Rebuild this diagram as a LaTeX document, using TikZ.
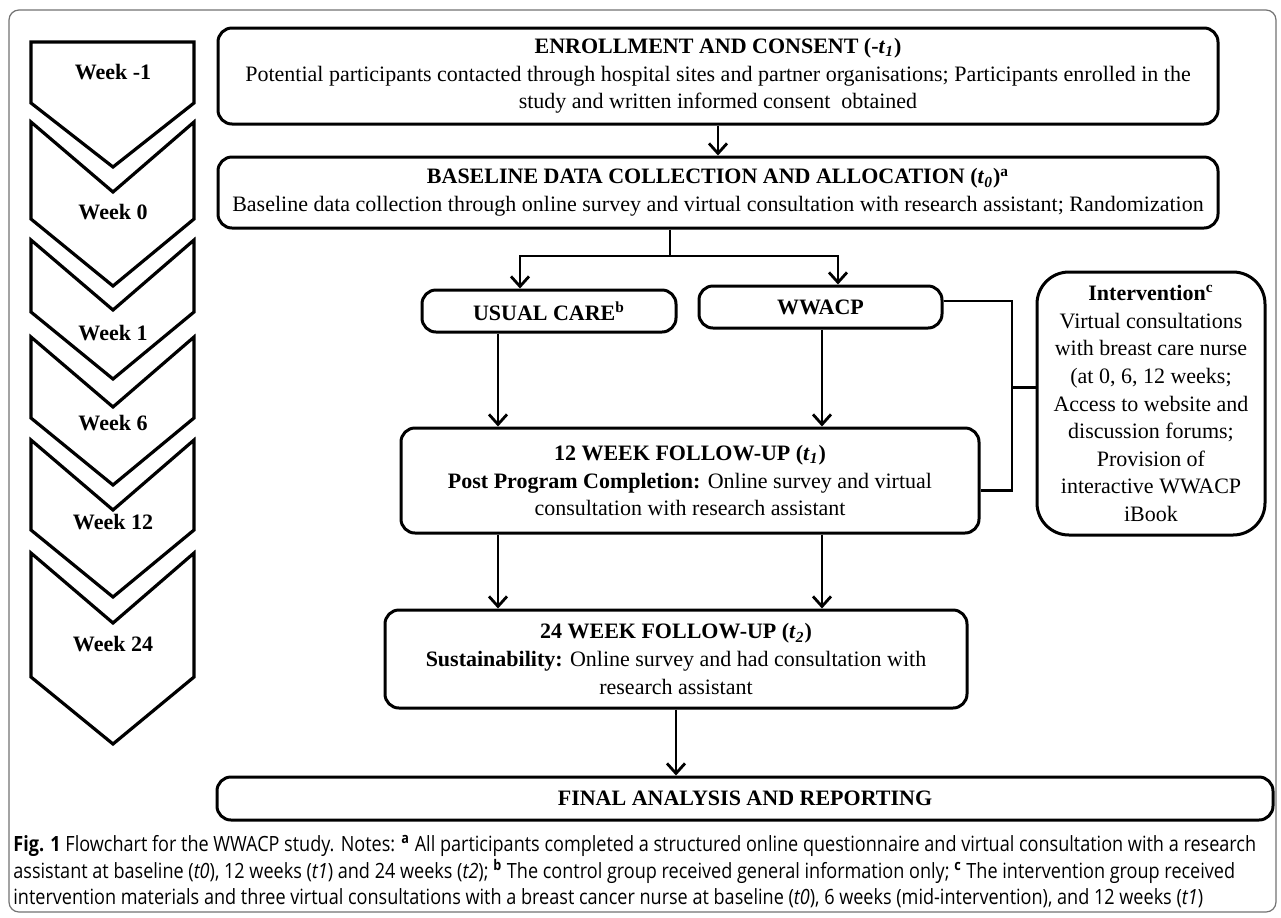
\documentclass[tikz,border=0pt]{standalone}
\usepackage{fontspec}
\setmainfont{Liberation Serif}
\newfontfamily\capfont[FakeStretch=0.86]{Open Sans}
\usetikzlibrary{arrows.meta}

\begin{document}
\begin{tikzpicture}[x=0.5pt,y=-0.5pt,
  box/.style={draw, line width=1.5pt, rounded corners=7pt, align=center, inner sep=0pt,
    font=\fontsize{11}{13.8}\selectfont},
  arr/.style={line width=1.4pt, -{Straight Barb[length=5pt,width=9pt]}},
  link/.style={line width=1.3pt},
  chev/.style={line width=1.6pt},
  wk/.style={font=\fontsize{11}{13}\selectfont\bfseries},
  frame/.style={draw=black!55, line width=0.6pt, rounded corners=5pt}]

  % Page and frame
  \fill[white] (0,0) rectangle (1281,917);
  \useasboundingbox (0,0) rectangle (1281,917);
  \draw[frame] (9,10) rectangle (1276,912);

  % Time line on the left
  \draw[chev] (31,42) -- (194,42) -- (194,103) -- (113,167) -- (31,103) -- cycle;
  \node[wk] (wkm1) at (113,72) {Week -1};
  \foreach \top/\bot/\lab/\ly [count=\i] in {122/219/Week 0/212, 240/312/Week 1/333,
      337/418/Week 6/423, 440/530/Week 12/522, 553/677/Week 24/644} {
    \draw[chev] (31,\top) -- (113,\top+70) -- (194,\top) -- (194,\bot)
      -- (113,\bot+67) -- (31,\bot) -- cycle;
    \node[wk] (wk\i) at (113,\ly) {\lab};
  }

  % Stages
  \node[box, minimum width=500pt, minimum height=48pt] (enroll) at (718,76)
    {\textbf{ENROLLMENT AND CONSENT (-\textit{t}\textsubscript{\textit{1}})}\\
     Potential participants contacted through hospital sites and partner organisations; Participants enrolled in the\\
     study and written informed consent\ \ obtained};
  \node[box, minimum width=500pt, minimum height=35.5pt] (base) at (718,192.5)
    {\textbf{BASELINE DATA COLLECTION AND ALLOCATION (\textit{t}\textsubscript{\textit{0}})\textsuperscript{a}}\\
     Baseline data collection through online survey and virtual consultation with research assistant; Randomization};
  \node[box, minimum width=127pt, minimum height=21pt] (usual) at (549,311)
    {\textbf{USUAL CARE\textsuperscript{b}}};
  \node[box, minimum width=121.5pt, minimum height=21pt] (wwacp) at (820.5,307)
    {\textbf{WWACP}};
  \node[box, minimum width=289pt, minimum height=52.5pt] (fu12) at (690,480.5)
    {\textbf{12 WEEK FOLLOW-UP (\textit{t}\textsubscript{\textit{1}})}\\
     \textbf{Post Program Completion:} Online survey and virtual\\
     consultation with research assistant};
  \node[box, rounded corners=16pt, minimum width=114pt, minimum height=131.5pt] (interv) at (1151,403.5)
    {\textbf{Intervention\textsuperscript{c}}\\ Virtual consultations\\ with breast care nurse\\
     (at 0, 6, 12 weeks;\\ Access to website and\\ discussion forums;\\ Provision of\\
     interactive WWACP\\ iBook};
  \node[box, minimum width=291pt, minimum height=49pt] (fu24) at (676,659)
    {\textbf{24 WEEK FOLLOW-UP (\textit{t}\textsubscript{\textit{2}})}\\
     \textbf{Sustainability:} Online survey and had consultation with\\
     research assistant};
  \node[box, minimum width=528pt, minimum height=21.5pt] (final) at (745,798.5)
    {\textbf{FINAL ANALYSIS AND REPORTING}};

  % Connectors
  \coordinate (split) at (670,256);
  \coordinate (ucin) at (520,0);
  \coordinate (ucout) at (498,0);
  \coordinate (wwin) at (838,0);
  \coordinate (wwout) at (822,0);
  \coordinate (bus) at (1012,0);
  \draw[arr] (enroll) -- (base);
  \draw[link] (base.south -| split) -- (split);
  \draw[arr] (split) -| (usual.north -| ucin);
  \draw[arr] (split) -| (wwacp.north -| wwin);
  \draw[arr] (usual.south -| ucout) -- (fu12.north -| ucout);
  \draw[arr] (wwacp.south -| wwout) -- (fu12.north -| wwout);
  \draw[arr] (fu12.south -| ucout) -- (fu24.north -| ucout);
  \draw[arr] (fu12.south -| wwout) -- (fu24.north -| wwout);
  \draw[arr] (fu24) -- (final.north -| fu24);
  \draw[link] ([yshift=3pt]wwacp.east) -- ([yshift=3pt]wwacp.east -| bus)
    -- ([yshift=-5pt]fu12.east -| bus) -- ([yshift=-5pt]fu12.east);
  \draw[link] ([yshift=8pt]interv.west) -- ([yshift=8pt]interv.west -| bus);

  % Caption
  \node[anchor=west, align=left, inner sep=0pt, font=\capfont\fontsize{10.5}{13.25}\selectfont] (caption) at (13,872)
    {\textbf{Fig. 1} Flowchart for the WWACP study. Notes: \textsuperscript{\textbf{a}} All participants completed a structured online questionnaire and virtual consultation with a research\\
     assistant at baseline (\textit{t0}), 12 weeks (\textit{t1}) and 24 weeks (\textit{t2}); \textsuperscript{\textbf{b}} The control group received general information only; \textsuperscript{\textbf{c}} The intervention group received\\
     intervention materials and three virtual consultations with a breast cancer nurse at baseline (\textit{t0}), 6 weeks (mid-intervention), and 12 weeks (\textit{t1})};

\end{tikzpicture}
\end{document}
